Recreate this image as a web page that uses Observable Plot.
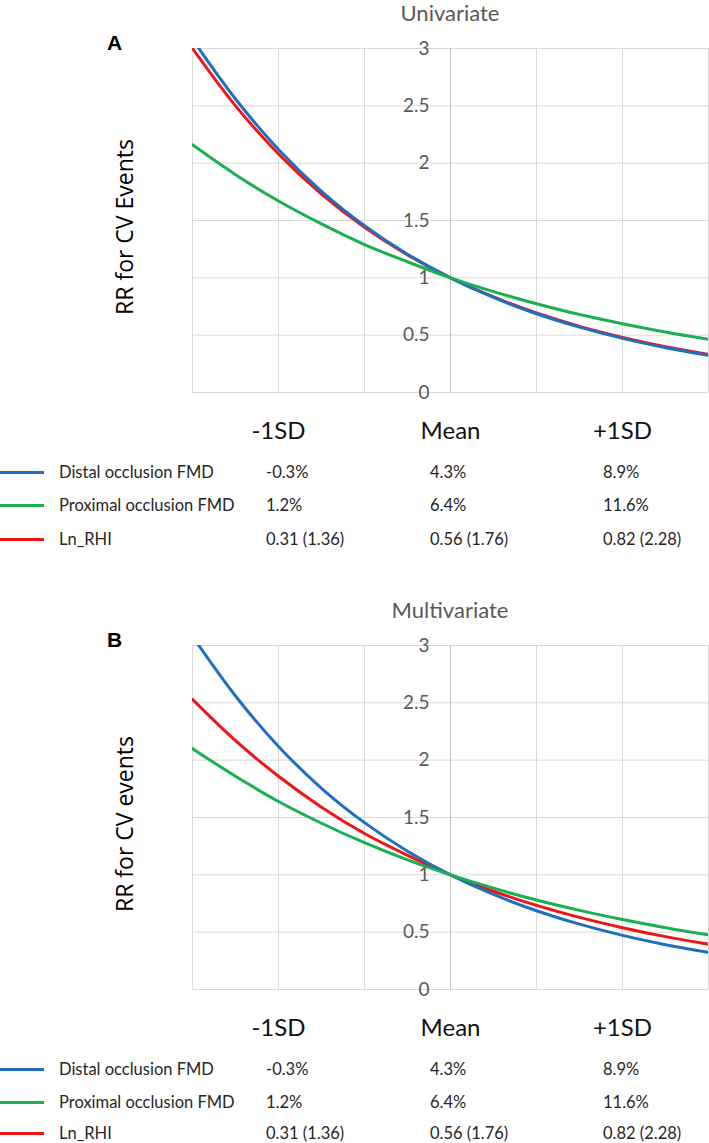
<!DOCTYPE html>
<html>
<head>
<meta charset="utf-8">
<script src="https://cdn.jsdelivr.net/npm/d3@7"></script>
<script src="https://cdn.jsdelivr.net/npm/@observablehq/plot@0.6"></script>
<style>
  html, body { margin: 0; padding: 0; background: #fff; }
  body { width: 709px; height: 1143px; overflow: hidden; font-family: Lato, "Open Sans", sans-serif; }
  .panel { position: relative; width: 709px; height: 597px; overflow: visible; }
  .panel svg { position: absolute; left: 0; top: 0; }
  .t { position: absolute; line-height: 0; white-space: nowrap; }
  .sw { position: absolute; left: 0; width: 44px; height: 3px; }
</style>
</head>
<body>
<div id="root"></div>
<script>
// ---- data ----
// sample positions along the x axis, in SD units relative to the mean
const zPoints = [-1.5, -1.25, -1, -0.75, -0.5, -0.25, 0, 0.25, 0.5, 0.75, 1, 1.25, 1.5];
const categories = ["-1SD", "Mean", "+1SD"];
const categoryPositions = [-1, 0, 1];
const yTicks = [0, 0.5, 1, 1.5, 2, 2.5, 3];
const xGridlines = [-1.5, -1, -0.5, 0, 0.5, 1, 1.5];
const seriesNames = ["Distal occlusion FMD", "Proximal occlusion FMD", "Ln_RHI"];
const seriesColors = ["#1f6fc0", "#1aaf50", "#f01414"];
const panelTitles = ["Univariate", "Multivariate"];
const panelLetters = ["A", "B"];
const yLabels = ["RR for CV Events", "RR for CV events"];
const legendValues = [
  ["-0.3%", "4.3%", "8.9%"],
  ["1.2%", "6.4%", "11.6%"],
  ["0.31 (1.36)", "0.56 (1.76)", "0.82 (2.28)"]
];

// Univariate RR values read at zPoints
const uniDistal   = [3.08, 2.56, 2.12, 1.755, 1.455, 1.206, 1, 0.829, 0.687, 0.57, 0.472, 0.391, 0.324];
const uniProximal = [2.16, 1.90, 1.67, 1.47, 1.29, 1.14, 1, 0.88, 0.774, 0.68, 0.60, 0.527, 0.463];
const uniLnRHI    = [3.00, 2.50, 2.08, 1.73, 1.44, 1.20, 1, 0.833, 0.693, 0.577, 0.481, 0.40, 0.333];
// Multivariate RR values read at zPoints
const mulDistal   = [3.08, 2.56, 2.12, 1.755, 1.455, 1.206, 1, 0.829, 0.687, 0.57, 0.472, 0.391, 0.324];
const mulProximal = [2.10, 1.86, 1.64, 1.45, 1.28, 1.13, 1, 0.884, 0.78, 0.69, 0.61, 0.539, 0.476];
const mulLnRHI    = [2.53, 2.17, 1.86, 1.59, 1.36, 1.17, 1, 0.857, 0.734, 0.629, 0.539, 0.461, 0.395];

const panelSeries = [
  [uniDistal, uniProximal, uniLnRHI],
  [mulDistal, mulProximal, mulLnRHI]
];
// drawing order: red, blue, green
const drawOrder = [2, 0, 1];

function makePanel(p, rowY) {
  const div = document.createElement("div");
  div.className = "panel";
  const series = panelSeries[p];
  const lineMarks = drawOrder.map(s => Plot.line(
    zPoints.map((z, i) => ({z, rr: series[s][i]})),
    {x: "z", y: "rr", stroke: seriesColors[s], strokeWidth: 3, curve: "catmull-rom", clip: true}
  ));
  const chart = Plot.plot({
    width: 709, height: 450,
    marginTop: 48, marginBottom: 58, marginLeft: 192, marginRight: 1,
    x: {domain: [-1.5, 1.5], axis: null},
    y: {domain: [0, 3], axis: null},
    style: {background: "transparent", fontFamily: "Lato", overflow: "visible"},
    marks: [
      Plot.ruleY(yTicks, {stroke: "#d9d9d9", strokeWidth: 1}),
      Plot.ruleX(xGridlines, {stroke: "#d9d9d9", strokeWidth: 1}),
      Plot.ruleX([0], {stroke: "#c4c4c4", strokeWidth: 1}),
      ...lineMarks,
      Plot.text(yTicks, {x: 0, y: d => d, dx: -21, textAnchor: "end", text: d => String(d),
        fill: "#595959", fontSize: 19}),
      Plot.text(categoryPositions, {x: d => d, y: 0, dy: 39, text: (d, i) => categories[i],
        fill: "#111", fontSize: 24})
    ]
  });
  div.appendChild(chart);

  const addText = (txt, left, top, style) => {
    const t = document.createElement("div");
    t.className = "t";
    t.textContent = txt;
    t.style.left = left + "px";
    t.style.top = top + "px";
    Object.assign(t.style, style || {});
    div.appendChild(t);
    return t;
  };
  addText(panelTitles[p], 450, 13, {transform: "translateX(-50%)", fontSize: "22px", color: "#595959"});
  addText(panelLetters[p], 107, 43, {fontFamily: "'Liberation Sans', Arial, sans-serif", fontWeight: "bold", fontSize: "21px", color: "#000"});
  const yl = addText(yLabels[p], 124, 227, {fontFamily: "'Open Sans', sans-serif", fontSize: "23px", color: "#000"});
  yl.style.transform = "translate(-50%, 0) rotate(-90deg)";

  const colX = [266, 430, 603];
  seriesNames.forEach((name, s) => {
    const sw = document.createElement("div");
    sw.className = "sw";
    sw.style.top = (rowY[s] - 1.5) + "px";
    sw.style.background = seriesColors[s];
    div.appendChild(sw);
    addText(name, 59, rowY[s], {fontSize: "16.5px", color: "#262626"});
    legendValues[s].forEach((v, c) => addText(v, colX[c], rowY[s], {fontSize: "16.5px", color: "#262626"}));
  });
  return div;
}

const root = document.getElementById("root");
root.appendChild(makePanel(0, [472, 505, 539]));
root.appendChild(makePanel(1, [472, 505, 536]));
</script>
</body>
</html>
